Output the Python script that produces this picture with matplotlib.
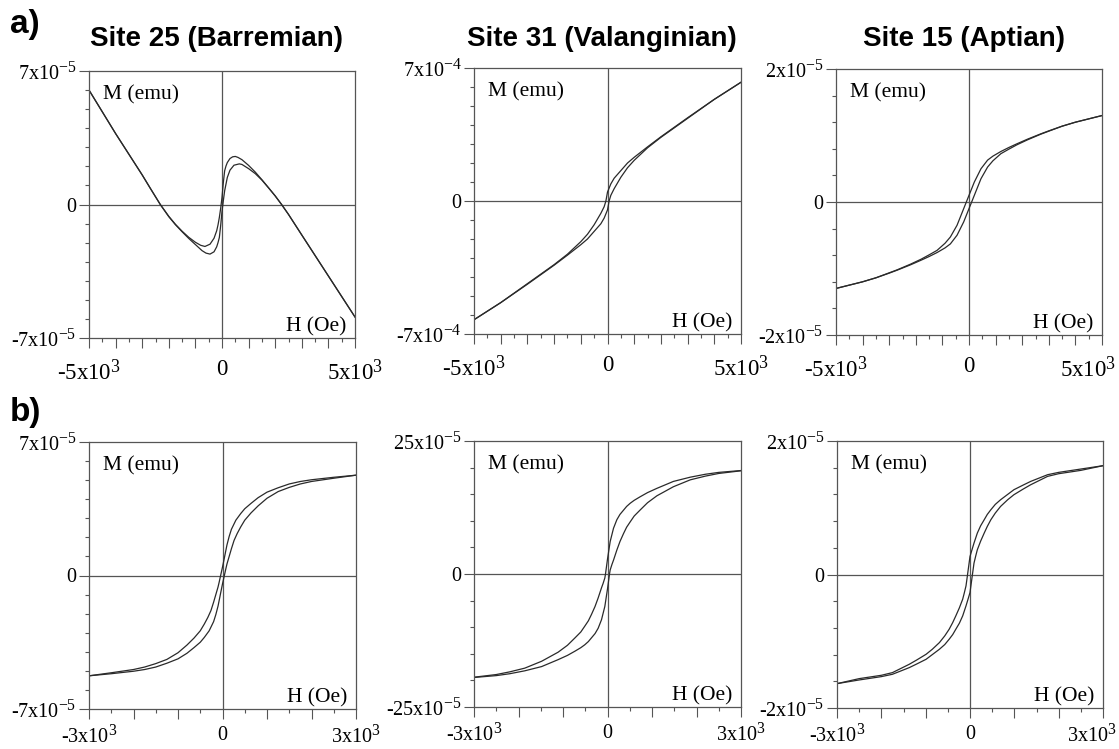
import numpy as np
import matplotlib
matplotlib.use("Agg")
import matplotlib.pyplot as plt
from matplotlib.ticker import FixedLocator, MultipleLocator, FuncFormatter
from matplotlib.transforms import ScaledTranslation

try:
    import matplotlib._mathtext as _mt
    _mt.SHRINK_FACTOR = 0.78
except Exception:
    pass

plt.rcParams['font.family'] = ['Liberation Serif', 'DejaVu Serif']
plt.rcParams['mathtext.fontset'] = 'custom'
plt.rcParams['mathtext.rm'] = 'Liberation Serif'
plt.rcParams['mathtext.it'] = 'Liberation Serif:italic'
plt.rcParams['mathtext.bf'] = 'Liberation Serif:bold'

# ---------------- data ----------------
titles = ["Site 25 (Barremian)", "Site 31 (Valanginian)", "Site 15 (Aptian)"]
row_labels = ["a)", "b)"]

# a) Site 25 (Barremian), M in 1e-5 emu
H_a1_up = [5000, 4000, 3000, 2500, 2240, 2000, 1750, 1500, 1250, 1000, 750, 600, 500, 400, 300, 200, 150, 100, 50, 0,
           -50, -100, -150, -200, -300, -450, -640, -800, -1000, -1250, -1500, -1750, -2000, -2320, -2700, -3000,
           -4000, -5000]
M_a1_up = [-5.9, -3.75, -1.6, -0.52, 0.0, 0.45, 0.88, 1.3, 1.7, 2.05, 2.35, 2.47, 2.52, 2.5, 2.41, 2.2, 2.02, 1.77, 1.15,
           0.37, -0.2, -0.68, -1.07, -1.38, -1.77, -2.08, -2.2, -2.14, -1.98, -1.72, -1.4, -1.04, -0.62, 0.0, 0.86,
           1.55, 3.72, 6.0]
H_a1_lo = [-5000, -4000, -3000, -2700, -2320, -2000, -1750, -1500, -1250, -1000, -750, -600, -450, -300, -200, -150,
           -100, -50, 0, 50, 100, 200, 300, 450, 650, 750, 1000, 1250, 1500, 1750, 2000, 2240, 2500, 3000, 4000, 5000]
M_a1_lo = [6.0, 3.72, 1.55, 0.86, 0.0, -0.64, -1.06, -1.43, -1.78, -2.1, -2.42, -2.55, -2.6, -2.48, -2.22, -2.0, -1.73,
           -1.1, -0.37, 0.2, 0.72, 1.42, 1.8, 2.06, 2.13, 2.1, 1.88, 1.62, 1.28, 0.87, 0.45, 0.0, -0.52, -1.6,
           -3.75, -5.9]

# a) Site 31 (Valanginian), M in 1e-4 emu
H_a2_up = [5000, 4000, 3000, 2500, 2000, 1500, 1000, 750, 500, 250, 125, 0, -60, -125, -250, -500, -750,
           -1000, -1500, -2000, -2500, -3000, -4000, -5000]
M_a2_up = [6.25, 5.35, 4.38, 3.88, 3.38, 2.85, 2.3, 2.0, 1.6, 1.2, 0.9, 0.47, 0.0, -0.3, -0.65, -1.25, -1.75,
           -2.14, -2.8, -3.35, -3.85, -4.35, -5.35, -6.25]
H_a2_lo = [-5000, -4000, -3000, -2500, -2000, -1500, -1000, -750, -500, -250, -125, 0, 60, 125, 250, 500, 750,
           1000, 1500, 2000, 2500, 3000, 4000, 5000]
M_a2_lo = [-6.25, -5.35, -4.38, -3.88, -3.38, -2.85, -2.3, -2.0, -1.6, -1.2, -0.9, -0.47, 0.0, 0.3, 0.65, 1.25,
           1.75, 2.14, 2.8, 3.35, 3.85, 4.35, 5.35, 6.25]

# a) Site 15 (Aptian), M in 1e-6 emu
H_a3_up = [5000, 4500, 4000, 3500, 3000, 2700, 2200, 1800, 1500, 1200, 900, 700, 450, 200, 100, 0, -100, -200,
           -450, -700, -900, -1200, -1500, -1800, -2200, -2700, -3000, -3500, -4000, -4500, -5000]
M_a3_up = [13.0, 12.5, 12.0, 11.4, 10.7, 10.25, 9.45, 8.75, 8.2, 7.6, 6.9, 6.3, 5.0, 3.0, 2.0, 1.0, 0.0, -1.0,
           -3.5, -5.26, -6.2, -7.27, -7.95, -8.6, -9.35, -10.2, -10.65, -11.4, -12.0, -12.5, -13.0]
H_a3_lo = [-5000, -4500, -4000, -3500, -3000, -2700, -2200, -1800, -1500, -1200, -900, -700, -450, -200, -100, 0,
           100, 200, 450, 700, 900, 1200, 1500, 1800, 2200, 2700, 3000, 3500, 4000, 4500, 5000]
M_a3_lo = [-13.0, -12.5, -12.0, -11.4, -10.7, -10.25, -9.45, -8.75, -8.2, -7.6, -6.9, -6.3, -5.0, -3.0, -2.0, -1.0,
           0.0, 1.0, 3.5, 5.26, 6.2, 7.27, 7.95, 8.6, 9.35, 10.2, 10.65, 11.4, 12.0, 12.5, 13.0]

# b) Site 25, M in 1e-5 emu
H_b1_up = [3000, 2500, 2000, 1750, 1500, 1250, 1000, 800, 640, 500, 410, 300, 200, 150, 100, 75, 40, 0, -42, -75,
           -100, -150, -200, -260, -330, -410, -500, -640, -800, -1000, -1250, -1500, -1750, -2000, -2500, -3000]
M_b1_up = [5.26, 5.15, 5.02, 4.93, 4.8, 4.6, 4.37, 4.08, 3.78, 3.5, 3.25, 2.9, 2.42, 2.05, 1.6, 1.31, 0.9, 0.44,
           0.0, -0.35, -0.6, -1.0, -1.4, -1.84, -2.2, -2.55, -2.9, -3.28, -3.65, -4.05, -4.4, -4.62, -4.8, -4.93,
           -5.1, -5.26]
H_b1_lo = [-3000, -2500, -2000, -1750, -1500, -1250, -1000, -800, -640, -500, -410, -300, -200, -150, -100, -75,
           -40, 0, 42, 75, 100, 150, 200, 260, 330, 410, 500, 640, 800, 1000, 1250, 1500, 1750, 2000, 2500, 3000]
M_b1_lo = [-5.26, -5.15, -5.02, -4.93, -4.8, -4.6, -4.37, -4.08, -3.78, -3.5, -3.25, -2.9, -2.42, -2.05, -1.6,
           -1.31, -0.9, -0.44, 0.0, 0.35, 0.6, 1.0, 1.4, 1.84, 2.2, 2.55, 2.9, 3.28, 3.65, 4.05, 4.4, 4.62, 4.8,
           4.93, 5.1, 5.26]

# b) Site 31, M in 1e-5 emu
H_b2_up = [3000, 2500, 2200, 1860, 1480, 1110, 900, 730, 600, 510, 430, 360, 280, 210, 135, 60, 0, -45, -60,
           -100, -135, -210, -280, -360, -430, -510, -600, -730, -900, -1110, -1480, -1860, -2200, -2500, -3000]
M_b2_up = [19.45, 19.1, 18.75, 18.2, 17.4, 16.1, 15.3, 14.5, 13.85, 13.3, 12.7, 12.0, 11.2, 10.2, 8.6, 6.1, 2.8,
           0.0, -0.75, -1.8, -2.6, -4.5, -6.1, -7.6, -8.8, -9.8, -10.9, -12.0, -13.4, -14.7, -16.4, -17.7, -18.4,
           -18.9, -19.4]
H_b2_lo = [-3000, -2500, -2200, -1860, -1480, -1110, -900, -730, -600, -510, -430, -360, -280, -210, -135, -60, 0,
           45, 60, 100, 135, 210, 280, 360, 430, 510, 600, 730, 900, 1110, 1480, 1860, 2200, 2500, 3000]
M_b2_lo = [-19.45, -19.1, -18.75, -18.2, -17.4, -16.1, -15.3, -14.5, -13.85, -13.3, -12.7, -12.0, -11.2, -10.2,
           -8.6, -6.1, -2.8, 0.0, 0.75, 1.8, 2.6, 4.5, 6.1, 7.6, 8.8, 9.8, 10.9, 12.0, 13.4, 14.7, 16.4, 17.7,
           18.4, 18.9, 19.4]

# b) Site 15, M in 1e-6 emu
H_b3_up = [3000, 2500, 2000, 1750, 1370, 1200, 990, 850, 690, 570, 470, 390, 320, 240, 165, 90, 40, 0, -55, -90,
           -130, -165, -240, -320, -390, -470, -570, -690, -850, -990, -1200, -1370, -1750, -2000, -2500, -3000]
M_b3_up = [16.3, 15.8, 15.3, 14.95, 13.95, 13.4, 12.7, 12.0, 11.2, 10.5, 9.7, 9.0, 8.2, 7.3, 6.2, 4.7, 3.6, 2.7,
           0.0, -1.7, -2.8, -3.7, -5.0, -6.2, -7.2, -8.2, -9.2, -10.2, -11.2, -11.95, -12.8, -13.45, -14.7, -15.1,
           -15.6, -16.35]
H_b3_lo = [-3000, -2500, -2000, -1750, -1370, -1200, -990, -850, -690, -570, -470, -390, -320, -240, -165, -90,
           -40, 0, 55, 90, 130, 165, 240, 320, 390, 470, 570, 690, 850, 990, 1200, 1370, 1750, 2000, 2500, 3000]
M_b3_lo = [-16.35, -15.8, -15.3, -14.95, -13.95, -13.4, -12.7, -12.0, -11.2, -10.5, -9.7, -9.0, -8.2, -7.3, -6.2,
           -4.7, -3.6, -2.7, 0.0, 1.7, 2.8, 3.7, 5.0, 6.2, 7.2, 8.2, 9.2, 10.2, 11.2, 11.95, 12.8, 13.45, 14.7,
           15.1, 15.6, 16.3]

# axis limits / tick labels
ylims = [7e-5, 7e-4, 2e-5, 7e-5, 25e-5, 2e-5]
ysteps = [1e-5, 1e-4, 4e-6, 1e-5, 5e-5, 4e-6]
ytick_labels = [["-7x10$^{-5}$", "0", "7x10$^{-5}$"],
                ["-7x10$^{-4}$", "0", "7x10$^{-4}$"],
                ["-2x10$^{-5}$", "0", "2x10$^{-5}$"],
                ["-7x10$^{-5}$", "0", "7x10$^{-5}$"],
                ["-25x10$^{-5}$", "0", "25x10$^{-5}$"],
                ["-2x10$^{-5}$", "0", "2x10$^{-5}$"]]
xlims = [5000, 5000, 5000, 3000, 3000, 3000]
xtick_labels = [["-5x10$^{3}$", "0", "5x10$^{3}$"]] * 3 + [["-3x10$^{3}$", "0", "3x10$^{3}$"]] * 3
m_scale = [1e-5, 1e-4, 1e-6, 1e-5, 1e-5, 1e-6]

curves = [(H_a1_up, M_a1_up, H_a1_lo, M_a1_lo),
          (H_a2_up, M_a2_up, H_a2_lo, M_a2_lo),
          (H_a3_up, M_a3_up, H_a3_lo, M_a3_lo),
          (H_b1_up, M_b1_up, H_b1_lo, M_b1_lo),
          (H_b2_up, M_b2_up, H_b2_lo, M_b2_lo),
          (H_b3_up, M_b3_up, H_b3_lo, M_b3_lo)]

# ---------------- layout ----------------
W, Hpx = 1119, 749
fig = plt.figure(figsize=(W / 100, Hpx / 100), dpi=100)

# axes boxes in pixels: left, right, top, bottom
boxes = [(89, 355, 71, 338), (474, 741, 68, 334), (836, 1102, 69, 335),
         (89, 356, 442, 709), (474, 741, 441, 707), (837, 1103, 441, 708)]
xlab_size = [16.5, 16.5, 16.5, 14.5, 14.5, 14.5]
xlab_pad = [8, 8, 8, 5, 5, 5]

line_c = '#2a2a2a'
axis_c = '#555555'

for i, (l, r, t, b) in enumerate(boxes):
    ax = fig.add_axes([l / W, 1 - b / Hpx, (r - l) / W, (b - t) / Hpx])
    hu, mu, hl, ml = curves[i]
    s = m_scale[i]
    ax.plot(hu, np.array(mu) * s, color=line_c, lw=0.9)
    ax.plot(hl, np.array(ml) * s, color=line_c, lw=0.9)
    ax.axhline(0, color=axis_c, lw=0.9, zorder=0)
    ax.axvline(0, color=axis_c, lw=0.9, zorder=0)

    yl = ylims[i]
    xl = xlims[i]
    ax.set_xlim(-xl, xl)
    ax.set_ylim(-yl, yl)

    ax.yaxis.set_major_locator(FixedLocator([-yl, 0, yl]))
    ax.set_yticklabels(ytick_labels[i])
    ax.yaxis.set_minor_locator(MultipleLocator(ysteps[i]))

    xmaj = np.arange(-xl, xl + 1, 1000)
    ax.xaxis.set_major_locator(FixedLocator(xmaj))
    labs = {-xl: xtick_labels[i][0], 0: xtick_labels[i][1], xl: xtick_labels[i][2]}
    ax.xaxis.set_major_formatter(FuncFormatter(lambda v, p, labs=labs: labs.get(int(round(v)), "")))
    ax.xaxis.set_minor_locator(MultipleLocator(500))

    ax.tick_params(which='major', direction='out', length=7, width=0.8, color=axis_c)
    ax.tick_params(axis='y', which='major', labelsize=14.5, pad=2)
    ax.tick_params(axis='x', which='major', labelsize=xlab_size[i], pad=xlab_pad[i])
    ax.tick_params(which='minor', direction='out', length=3, width=0.8, color=axis_c)
    for sp in ax.spines.values():
        sp.set_color(axis_c)
        sp.set_linewidth(0.9)

    if i in (2, 5):
        last = ax.xaxis.get_major_ticks()[-1]
        last.label1.set_horizontalalignment('right')
        last.label1.set_transform(last.label1.get_transform()
                                  + ScaledTranslation(14 / 100, 0, fig.dpi_scale_trans))

    ax.text(14 / (r - l), 1 - 28 / (b - t), "M (emu)", transform=ax.transAxes,
            ha='left', va='baseline', fontsize=15.5)
    ax.text(1 - 9 / (r - l), 7 / (b - t), "H (Oe)", transform=ax.transAxes,
            ha='right', va='baseline', fontsize=15.5)

# titles
title_x = [217, 602, 964]
for tx, tt in zip(title_x, titles):
    fig.text(tx / W, 1 - 46 / Hpx, tt, ha='center', va='baseline',
             fontsize=20, fontweight='bold', family='Liberation Sans')

fig.text(10 / W, 1 - 33 / Hpx, row_labels[0], ha='left', va='baseline',
         fontsize=24, fontweight='bold', family='Liberation Sans')
fig.text(10 / W, 1 - 421 / Hpx, row_labels[1], ha='left', va='baseline',
         fontsize=24, fontweight='bold', family='Liberation Sans')

fig.savefig("out.png", dpi=100)
